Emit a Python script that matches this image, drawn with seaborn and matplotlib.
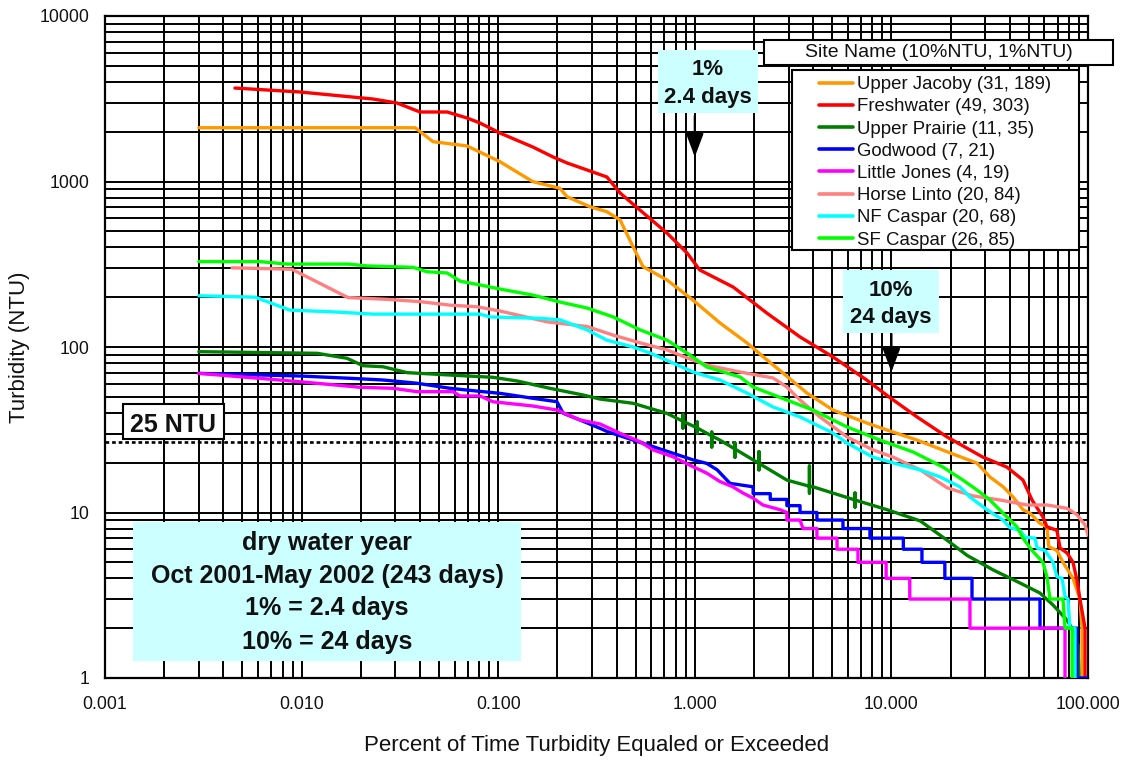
import numpy as np
import pandas as pd
import matplotlib
matplotlib.use("Agg")
import matplotlib.pyplot as plt
import seaborn as sns
from matplotlib.patches import Rectangle
from matplotlib.lines import Line2D
from matplotlib.ticker import LogLocator, FuncFormatter, NullFormatter

# ---------------- data ----------------
sites = ["Upper Jacoby", "Freshwater", "Upper Prairie", "Godwood",
         "Little Jones", "Horse Linto", "NF Caspar", "SF Caspar"]
colors = ["#FF9900", "#FF0000", "#008000", "#0000FF",
          "#FF00FF", "#FF8080", "#00FFFF", "#00FF00"]
ntu_10pct = [31, 49, 11, 7, 4, 20, 20, 26]
ntu_1pct = [189, 303, 35, 21, 19, 84, 68, 85]

jacoby_x = [0.003, 0.0378, 0.0466, 0.0694, 0.102, 0.150, 0.206, 0.224, 0.293, 0.357,
            0.417, 0.485, 0.545, 0.722, 0.979, 1.34, 1.84, 2.33, 2.81, 3.72,
            5.05, 7.51, 9.5, 13.5, 19.9, 27.2, 31.7, 37.0, 41.6, 46.7,
            50.7, 57.0, 61.8, 63.2, 69.5, 74.6, 83.9, 91.0, 93.2, 93.2]
jacoby_y = [2113, 2113, 1740, 1640, 1318, 998, 910, 809, 704, 657,
            585, 404, 306, 254, 192, 140, 106, 83.5, 69.6, 52.7,
            41.6, 34.7, 31.5, 27.4, 22.9, 19.9, 16.4, 14.3, 12.4, 10.4,
            9.9, 8.6, 8.2, 6.2, 5.9, 5.0, 4.0, 3.0, 2.0, 1.0]

fresh_x = [0.00458, 0.0098, 0.0231, 0.0306, 0.040, 0.055, 0.0694, 0.0808, 0.102, 0.150,
           0.190, 0.224, 0.303, 0.357, 0.417, 0.526, 0.722, 0.913, 1.06, 1.57,
           2.33, 3.43, 5.05, 7.51, 9.73, 13.5, 19.2, 29.2, 38.7, 46.7,
           51.9, 59.0, 61.8, 69.5, 72.1, 78.2, 83.9, 87.9, 91.0, 96.6, 96.6]
fresh_y = [3670, 3475, 3150, 2980, 2630, 2630, 2420, 2256, 1963, 1616,
           1407, 1294, 1141, 1065, 852, 672, 488, 370, 292, 230,
           160, 115, 87, 63, 49.9, 37.8, 28.6, 21.6, 18.8, 15.7,
           11.9, 9.4, 8.2, 7.8, 6.1, 5.7, 5.0, 3.9, 3.0, 2.0, 1.0]

prairie_x = [0.003, 0.012, 0.017, 0.0205, 0.0259, 0.0344, 0.0569, 0.0941, 0.125, 0.183,
             0.270, 0.329, 0.485, 0.722,
             0.87, 0.87, 0.87, 0.87,
             1.03, 1.03, 1.03, 1.03,
             1.22, 1.22, 1.22, 1.22,
             1.34,
             1.60, 1.60, 1.60, 1.60,
             2.12, 2.12, 2.12, 2.12,
             2.94,
             3.83, 3.83, 3.83, 3.83,
             3.99,
             6.53, 6.53, 6.53, 6.53,
             9.5, 14.0, 19.2, 24.3, 32.9, 45.1, 57.0, 66.4, 78.2, 83.9, 88.9, 90.0]
prairie_y = [93.7, 91.6, 85.5, 77.1, 76, 70, 67.7, 65.6, 62.3, 56.3,
             51.3, 48.5, 45.7, 39.7,
             35.6, 38.9, 32.4, 35.6,
             32.4, 35.2, 30.3, 32.4,
             29.0, 30.6, 24.9, 29.0,
             27.4,
             24.2, 26.3, 21.6, 24.2,
             19.8, 23.3, 18.1, 19.8,
             15.7,
             14.4, 19.1, 13.1, 14.4,
             14.3,
             11.9, 13.1, 10.8, 11.9,
             10.4, 8.9, 6.8, 5.5, 4.5, 3.75, 3.26, 2.76, 2.24, 1.95, 1.58, 1.0]

godwood_x = [0.003, 0.0098, 0.0176, 0.0259, 0.0386, 0.0569, 0.0837, 0.102, 0.150, 0.199,
             0.214, 0.261, 0.329, 0.36, 0.485, 0.613, 0.775, 0.979, 1.15, 1.30,
             1.51, 1.98, 1.98, 2.42, 2.42, 2.94, 2.94, 3.43, 3.43, 4.18,
             4.18, 5.67, 5.67, 7.78, 7.78, 11.5, 11.5, 14.3, 14.3, 18.7,
             18.7, 25.7, 25.7, 57.0, 57.0, 87.9, 87.9, 98.8]
godwood_y = [69.3, 66.8, 64.7, 63.2, 60.4, 56.3, 53.7, 52.5, 49, 46.7,
             39.8, 36.2, 32.3, 30.8, 27.4, 25, 22.8, 20.8, 19.8, 18.1,
             15, 14.3, 13, 13, 12, 12, 11, 11, 10, 10,
             9, 9, 8, 8, 7, 7, 6, 6, 5, 5,
             4, 4, 3, 3, 2, 2, 1, 1]

jones_x = [0.003, 0.0098, 0.0198, 0.0292, 0.0386, 0.0589, 0.064, 0.081, 0.094, 0.150,
           0.199, 0.261, 0.329, 0.417, 0.526, 0.613, 0.775, 0.979, 1.15, 1.34,
           1.56, 1.76, 1.98, 2.22, 2.71, 2.94, 2.94, 3.43, 3.55, 4.18,
           4.18, 5.29, 5.29, 6.76, 6.76, 9.4, 9.4, 12.4, 12.4, 25.1,
           25.1, 76.4, 76.4]
jones_y = [69.3, 61.7, 57.1, 56.3, 53.7, 53.7, 50.6, 50.6, 46.7, 44,
           41.6, 36.2, 34.3, 30.1, 26.8, 23.9, 21.7, 18.9, 17.3, 15.4,
           14.3, 13.1, 12.2, 11.1, 10.4, 10, 9, 9, 8, 8,
           7, 7, 6, 6, 5, 5, 4, 4, 3, 3,
           2, 2, 1]

linto_x = [0.00443, 0.00893, 0.0172, 0.0272, 0.040, 0.0569, 0.078, 0.102, 0.177, 0.283,
           0.384, 0.526, 0.722, 0.913, 1.15, 1.70, 2.50, 2.94, 3.43, 4.33,
           5.94, 8.06, 10.2, 14.0, 19.2, 26.0, 35.7, 49.0, 61.8, 78.2,
           87.9, 96.6, 100]
linto_y = [301, 295, 199, 194, 188, 179, 175, 165, 142, 133,
           118, 106, 96, 86, 77.8, 70.6, 65, 57.3, 47.8, 37.8,
           28.6, 23.9, 21.6, 18.1, 14.1, 12.6, 11.9, 11.1, 11.1, 10.6,
           9.7, 8.4, 7.3]

nfc_x = [0.003, 0.0058, 0.00873, 0.0145, 0.0231, 0.081, 0.0908, 0.163, 0.206, 0.283,
         0.357, 0.485, 0.592, 0.775, 0.979, 1.34, 1.84, 2.50, 3.43, 5.05,
         5.94, 8.06, 11.1, 14.0, 17.7, 22.3, 25.1, 30.6, 37.0, 40.1,
         45.1, 47.8, 53.7, 55.1, 60.4, 66.4, 69.5, 73.8, 76.4, 79.1,
         80.9, 85.9, 85.9]
nfc_y = [204, 200, 167, 163, 158, 158, 152, 149, 146, 127,
         110, 100, 92, 80, 70.6, 63.2, 52.7, 43.4, 37.8, 30.2,
         26.3, 21.6, 19.4, 18.1, 16.4, 14.3, 12.4, 10.4, 9.0, 8.1,
         7.8, 7.1, 7.0, 6.1, 5.9, 5.0, 4.1, 4.0, 3.1, 3.0,
         2.0, 2.0, 1.0]

sfc_x = [0.003, 0.00614, 0.00843, 0.0172, 0.0215, 0.0369, 0.0434, 0.055, 0.064, 0.081,
         0.102, 0.150, 0.206, 0.283, 0.384, 0.526, 0.722, 0.913, 1.15, 1.70,
         1.98, 2.94, 3.99, 5.94, 8.75, 12.9, 18.3, 23.1, 27.2, 31.7,
         37.0, 43.5, 46.7, 51.9, 59.0, 61.8, 64.1, 74.6, 76.4, 83.0, 83.0]
sfc_y = [328, 328, 317, 317, 309, 303, 285, 280, 250, 237,
         224, 206, 187, 172, 152, 127, 110, 92, 75.7, 65.9,
         57.3, 47.8, 41.6, 32.9, 27.4, 23.2, 18.8, 15.7, 13.7, 11.9,
         9.9, 8.2, 7.0, 5.9, 5.0, 4.1, 3.0, 3.0, 2.0, 2.0, 1.0]

series_x = [jacoby_x, fresh_x, prairie_x, godwood_x, jones_x, linto_x, nfc_x, sfc_x]
series_y = [jacoby_y, fresh_y, prairie_y, godwood_y, jones_y, linto_y, nfc_y, sfc_y]

threshold_ntu = 26.8
x_ticks = [0.001, 0.01, 0.1, 1, 10, 100]
y_ticks = [1, 10, 100, 1000, 10000]

# ---------------- figure ----------------
sns.set_style("white")
plt.rcParams["font.family"] = ["Liberation Sans", "DejaVu Sans"]

W, H = 1128, 761
fig = plt.figure(figsize=(W / 100, H / 100), dpi=100)
ax = fig.add_axes([105 / W, 1 - 678 / H, 983 / W, 662 / H])
ax.set_xscale("log")
ax.set_yscale("log")

frames = []
for name, xs, ys in zip(sites, series_x, series_y):
    assert len(xs) == len(ys), name
    frames.append(pd.DataFrame({"pct": xs, "ntu": ys, "site": name}))
df = pd.concat(frames, ignore_index=True)

sns.lineplot(data=df, x="pct", y="ntu", hue="site", hue_order=sites,
             palette=colors, sort=False, estimator=None, lw=2.4, ax=ax,
             legend=False, zorder=3)

ax.set_xlim(0.001, 100)
ax.set_ylim(1, 10000)

ax.xaxis.set_minor_locator(LogLocator(base=10, subs=np.arange(2, 10), numticks=20))
ax.yaxis.set_minor_locator(LogLocator(base=10, subs=np.arange(2, 10), numticks=20))
ax.set_xticks(x_ticks)
ax.set_yticks(y_ticks)
ax.xaxis.set_major_formatter(FuncFormatter(lambda v, p: f"{v:.3f}"))
ax.yaxis.set_major_formatter(FuncFormatter(lambda v, p: f"{v:g}"))
ax.xaxis.set_minor_formatter(NullFormatter())
ax.yaxis.set_minor_formatter(NullFormatter())

ax.grid(True, which="both", color="black", lw=1.4)
ax.set_axisbelow(True)
ax.tick_params(which="major", direction="out", length=3.5, width=1.4,
               color="black", labelsize=12.7, labelcolor="#111111")
ax.tick_params(axis="x", which="major", pad=9.5)
ax.tick_params(axis="y", which="major", pad=7.5)
ax.tick_params(which="minor", length=0)
for s in ax.spines.values():
    s.set_color("black")
    s.set_linewidth(1.6)

ax.set_xlabel("Percent of Time Turbidity Equaled or Exceeded", fontsize=16, color="#111111")
ax.set_ylabel("Turbidity (NTU)", fontsize=16, color="#111111")
ax.xaxis.label.set_verticalalignment("center")
ax.yaxis.label.set_verticalalignment("center")
ax.xaxis.set_label_coords(0.5, (678 - 745) / 662)
ax.yaxis.set_label_coords((20 - 105) / 983, 0.5)

# 25 NTU dotted line
ax.axhline(threshold_ntu, color="black", lw=1.9, ls=(0, (1.4, 1.1)), zorder=2.5)

# arrows at 1 % and 10 %
arrow_kw = dict(arrowstyle="-|>,head_length=1.2,head_width=0.45", mutation_scale=12,
                lw=1.6, color="black", shrinkA=0, shrinkB=0)
ax.annotate("", xy=(1, 1406), xytext=(1, 2490), arrowprops=arrow_kw, zorder=4)
ax.annotate("", xy=(10, 70.6), xytext=(10, 120), arrowprops=arrow_kw, zorder=4)


def fig_rect(x0, y0, x1, y1, fc, ec="none", lw=0, z=2):
    r = Rectangle((x0 / W, 1 - y1 / H), (x1 - x0) / W, (y1 - y0) / H,
                  transform=fig.transFigure, facecolor=fc, edgecolor=ec,
                  lw=lw, zorder=z)
    fig.add_artist(r)


def fig_txt(x, y, s, size, bold=True, ha="center", va="baseline"):
    fig.text(x / W, 1 - y / H, s, fontsize=size, ha=ha, va=va,
             fontweight="bold" if bold else "normal", color="#111111", zorder=6)


cyan_box = "#CCFFFF"
# 1% box
fig_rect(658, 50, 758, 113, cyan_box)
fig_txt(708, 75, "1%", 16)
fig_txt(708, 103, "2.4 days", 16)
# 10% box
fig_rect(843, 270, 939, 333, cyan_box)
fig_txt(891, 296, "10%", 16)
fig_txt(891, 323, "24 days", 16)
# 25 NTU label
fig_rect(123, 404, 224, 439, "white", ec="black", lw=1.5)
fig_txt(173.5, 431.5, "25 NTU", 18)
# info box
fig_rect(133, 522, 521, 661, cyan_box)
fig_txt(327, 550, "dry water year", 18)
fig_txt(327, 583, "Oct 2001-May 2002 (243 days)", 18)
fig_txt(327, 615, "1% = 2.4 days", 18)
fig_txt(327, 649, "10% = 24 days", 18)

# legend frame + title box
fig_rect(792, 70, 1079, 250, "white", ec="black", lw=1.5)
fig_rect(764, 40, 1113, 65, "white", ec="black", lw=1.5)
fig_txt(938.5, 52.5, "Site Name (10%NTU, 1%NTU)", 14, bold=False, va="center")

handles = [Line2D([0], [0], color=c, lw=2.6) for c in colors]
labels = [f"{n} ({a}, {b})" for n, a, b in zip(sites, ntu_10pct, ntu_1pct)]
leg = fig.legend(handles, labels, loc="upper left",
                 bbox_to_anchor=(819 / W, 1 - 76 / H), bbox_transform=fig.transFigure,
                 frameon=False, fontsize=13.4, handlelength=1.85, handletextpad=0.2,
                 labelspacing=0.28, borderpad=0, borderaxespad=0)
leg.set_zorder(7)
for t in leg.get_texts():
    t.set_color("#111111")

fig.savefig("out.png", dpi=100)
